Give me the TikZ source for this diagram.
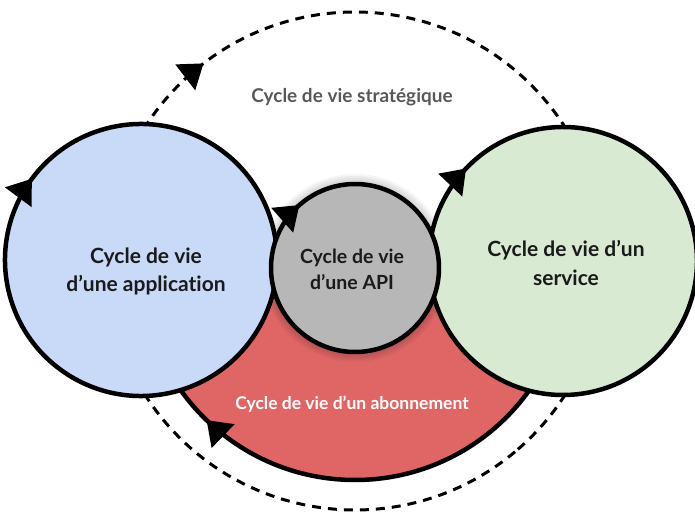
\documentclass[tikz,border=0pt]{standalone}
\usepackage{fontspec}
\setmainfont{Lato}[Ligatures={NoCommon,NoRare}, RawFeature={-liga;-dlig}]
\usetikzlibrary{arrows.meta,decorations.markings}
\definecolor{appblue}{HTML}{C9DAF8}
\definecolor{svcgreen}{HTML}{D9EAD3}
\definecolor{apigray}{HTML}{B7B7B7}
\definecolor{subred}{HTML}{E06666}
\definecolor{strattext}{HTML}{595959}
\definecolor{ink}{HTML}{1A1A1A}
\tikzset{
  cycleline/.style={line width=4.5pt, draw=black},
  stratline/.style={line width=3pt, dash pattern=on 9pt off 7pt},
  tipat/.style={postaction={decorate, decoration={markings,
      mark=at position #1 with {\pgfsetdash{}{0pt}\arrow{Triangle[length=23pt,width=32pt]}}}}},
  bigtext/.style={font=\bfseries\fontsize{21}{28}\selectfont, text=ink, align=center},
  midtext/.style={font=\bfseries\fontsize{19.5}{26}\selectfont, text=ink, align=center},
  smalltext/.style={font=\bfseries\fontsize{17.5}{20}\selectfont, align=center},
}
\begin{document}
\begin{tikzpicture}[x=1pt,y=1pt]
\useasboundingbox (0,0) rectangle (695,514);
% strategic dashed cycle
\draw[stratline, tipat=0.507] (355,253) ++(310:249) arc[start angle=310, end angle=-50, radius=249pt];
% subscription (red lower half disc)
\fill[subred] (355,248) ++(0:214) arc[start angle=0, end angle=-180, radius=214pt] -- cycle;
\draw[cycleline, tipat=0.744] (355,248) ++(0:214) arc[start angle=0, end angle=-180, radius=214pt];
% soft shadow of API circle
\foreach \d in {2,4,6,8,10} {
  \fill[black, opacity=0.04] (355,246) circle[radius=84pt+\d pt];
}
% application
\filldraw[cycleline, fill=appblue, tipat=0.513] (141,254) ++(328:136) arc[start angle=328, end angle=-32, radius=136pt];
% service
\filldraw[cycleline, fill=svcgreen, tipat=0.513] (563,253) ++(321:134) arc[start angle=321, end angle=-39, radius=134pt];
% API
\filldraw[cycleline, fill=apigray, tipat=0.521] (355,246) ++(319:84) arc[start angle=319, end angle=-41, radius=84pt];
% labels
\node[smalltext, text=strattext, font=\bfseries\fontsize{19}{22}\selectfont] (strat) at (352,417) {Cycle de vie stratégique};
\node[bigtext] (app) at (146,243) {Cycle de vie\\d’une application};
\node[midtext] (api) at (352,245) {Cycle de vie\\d’une API};
\node[bigtext, font=\bfseries\fontsize{21}{29}\selectfont] (svc) at (566,251) {Cycle de vie d’un\\service};
\node[smalltext, text=white] (sub) at (352,110) {Cycle de vie d’un abonnement};
\end{tikzpicture}
\end{document}
